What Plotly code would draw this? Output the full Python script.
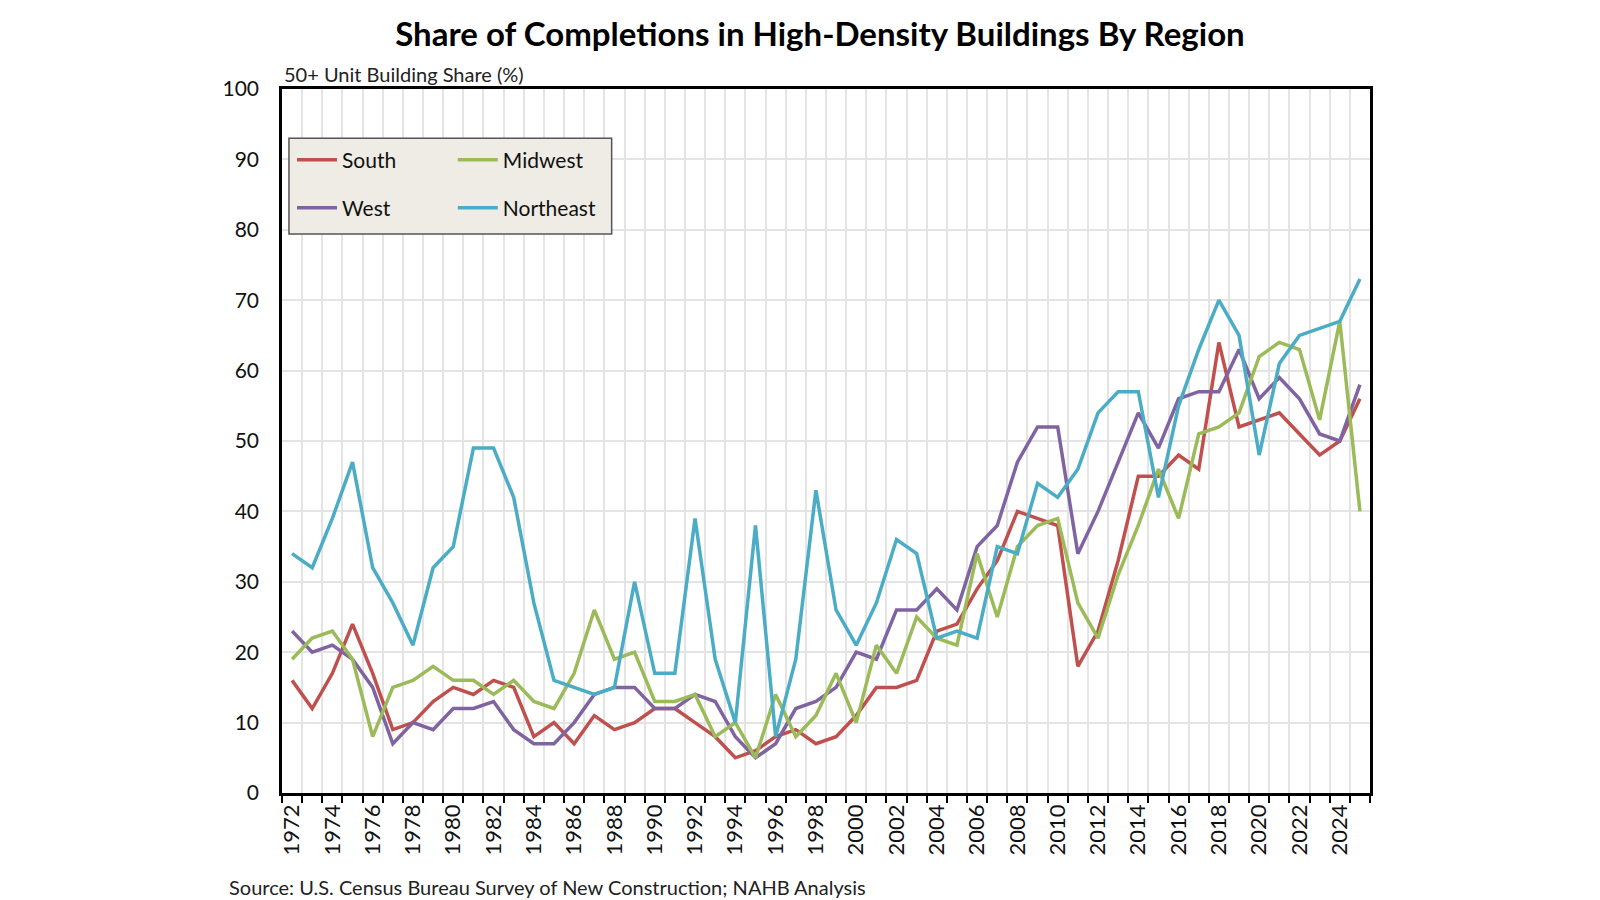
import plotly.graph_objects as go

years = list(range(1972, 2026))

south = [16, 12, 17, 24, 17, 9, 10, 13, 15, 14, 16, 15, 8, 10, 7, 11, 9, 10, 12, 12,
         10, 8, 5, 6, 8, 9, 7, 8, 11, 15, 15, 16, 23, 24, 29, 33, 40, 39, 38, 18,
         23, 33, 45, 45, 48, 46, 64, 52, 53, 54, 51, 48, 50, 56]
midwest = [19, 22, 23, 19, 8, 15, 16, 18, 16, 16, 14, 16, 13, 12, 17, 26, 19, 20, 13, 13,
           14, 8, 10, 5, 14, 8, 11, 17, 10, 21, 17, 25, 22, 21, 34, 25, 35, 38, 39, 27,
           22, 31, 38, 46, 39, 51, 52, 54, 62, 64, 63, 53, 67, 40]
west = [23, 20, 21, 19, 15, 7, 10, 9, 12, 12, 13, 9, 7, 7, 10, 14, 15, 15, 12, 12,
        14, 13, 8, 5, 7, 12, 13, 15, 20, 19, 26, 26, 29, 26, 35, 38, 47, 52, 52, 34,
        40, 47, 54, 49, 56, 57, 57, 63, 56, 59, 56, 51, 50, 58]
northeast = [34, 32, 39, 47, 32, 27, 21, 32, 35, 49, 49, 42, 27, 16, 15, 14, 15, 30, 17, 17,
             39, 19, 10, 38, 8, 19, 43, 26, 21, 27, 36, 34, 22, 23, 22, 35, 34, 44, 42, 46,
             54, 57, 57, 42, 55, 63, 70, 65, 48, 61, 65, 66, 67, 73]

label_years = list(range(1972, 2025, 2))
y_ticks = list(range(0, 101, 10))

FONT = "Lato, 'Open Sans', sans-serif"

fig = go.Figure()
series = [
    ("South", south, "#c0504d", "legend"),
    ("West", west, "#8064a2", "legend2"),
    ("Midwest", midwest, "#9bbb59", "legend3"),
    ("Northeast", northeast, "#4bacc6", "legend4"),
]
for name, vals, color, leg in series:
    fig.add_trace(go.Scatter(x=years, y=vals, name=name, mode="lines",
                             line=dict(color=color, width=3.5), legend=leg))

def leg(x, y):
    return dict(x=x, y=y, xanchor="left", yanchor="middle",
                bgcolor="rgba(0,0,0,0)", font=dict(size=21, family=FONT, color="#111111"),
                tracegroupgap=0, itemwidth=40)

fig.update_layout(
    width=1600, height=900,
    paper_bgcolor="white", plot_bgcolor="white",
    margin=dict(l=282, r=230, t=89, b=107),
    font=dict(family=FONT, color="#111111"),
    title=dict(text="<b>Share of Completions in High-Density Buildings By Region</b>",
               x=0.5125, xanchor="center", y=0.962, yanchor="middle",
               font=dict(size=33, family=FONT, color="#000000")),
    xaxis=dict(range=[1971.5, 2025.5], tickmode="array", tickvals=label_years,
               ticktext=[str(y) for y in label_years], tickangle=-90,
               ticks="", showgrid=False, showline=True, linecolor="black",
               linewidth=2.5, mirror=True, zeroline=False,
               tickfont=dict(size=22, family=FONT),
               minor=dict(tick0=1971.5, dtick=1, ticks="outside", ticklen=7,
                          tickwidth=2, tickcolor="black", showgrid=True,
                          gridcolor="#e4e4e4", gridwidth=1.5)),
    yaxis=dict(range=[0, 100], tickmode="array", tickvals=y_ticks,
               showgrid=True, gridcolor="#e4e4e4", gridwidth=1.5,
               showline=True, linecolor="black", linewidth=2.5, mirror=True,
               zeroline=False, ticks="", tickfont=dict(size=21, family=FONT),
               ticklabelstandoff=16),
    legend=leg(0.0092, 0.899),
    legend2=leg(0.0092, 0.831),
    legend3=leg(0.157, 0.899),
    legend4=leg(0.157, 0.831),
    showlegend=True,
)

fig.add_shape(type="rect", xref="paper", yref="paper",
              x0=0.0064, x1=0.303, y0=0.794, y1=0.930,
              fillcolor="#eeece4", line=dict(color="#555555", width=1.5),
              layer="above")

fig.add_annotation(text="50+ Unit Building Share (%)", xref="paper", yref="paper",
                   x=0.0, y=1.0, xanchor="left", yanchor="bottom", yshift=1,
                   showarrow=False, font=dict(size=20, family=FONT, color="#222222"))
fig.add_annotation(text="Source: U.S. Census Bureau Survey of New Construction; NAHB Analysis",
                   xref="paper", yref="paper", x=-0.0505, y=-0.133,
                   xanchor="left", yanchor="middle", showarrow=False,
                   font=dict(size=20, family=FONT, color="#222222"))

fig.write_html("out.html")
